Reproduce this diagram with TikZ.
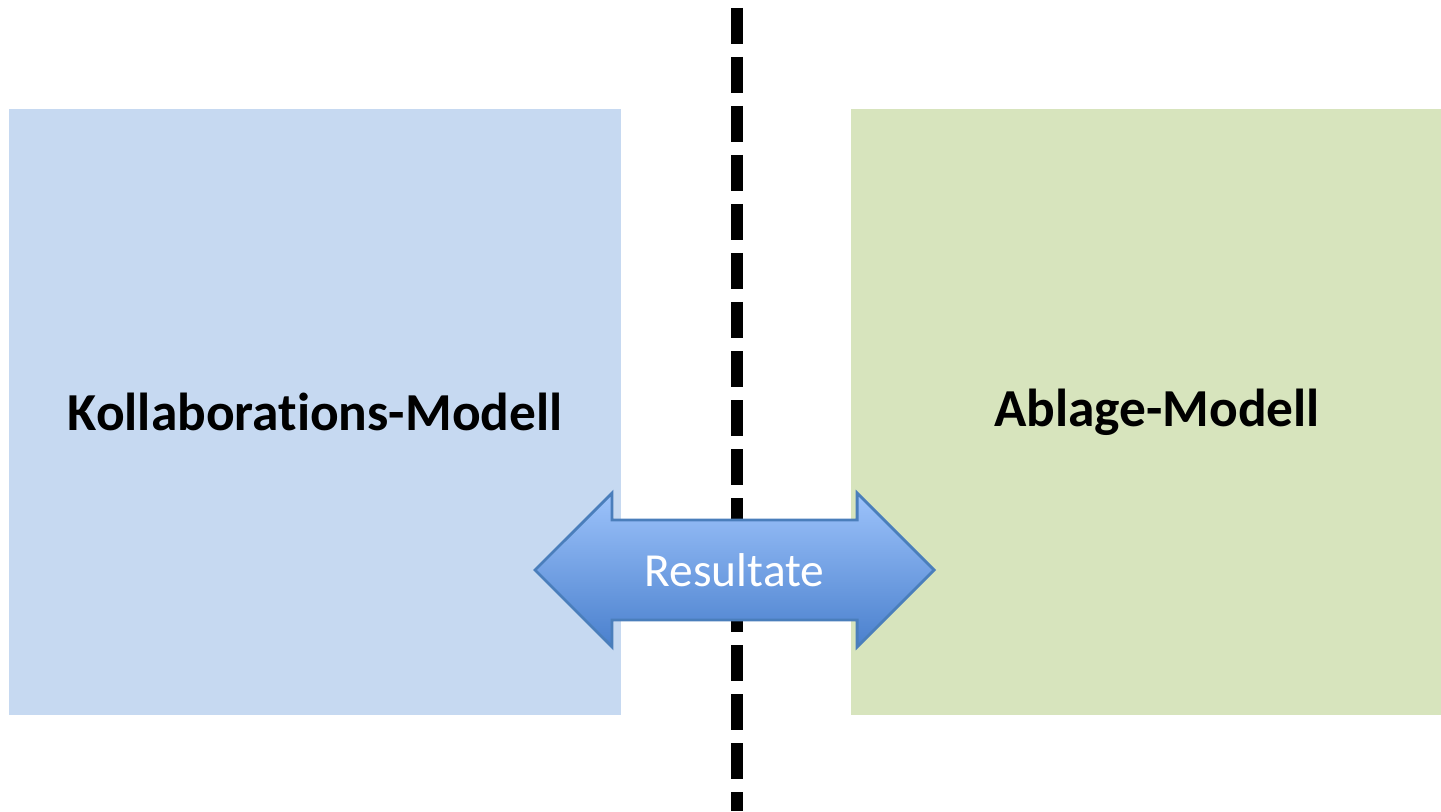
\documentclass[tikz,border=0pt]{standalone}
\usepackage{fontspec}
\setmainfont{Carlito}[Ligatures={NoCommon}]
\usetikzlibrary{shapes.arrows}

\definecolor{kollabblue}{HTML}{C6D9F1}
\definecolor{ablagegreen}{HTML}{D7E4BD}
\definecolor{arrowtop}{HTML}{9DC3FB}
\definecolor{arrowbottom}{HTML}{4A80CD}
\definecolor{arrowline}{HTML}{4A7EBB}

\begin{document}
\begin{tikzpicture}[model/.style={rectangle,minimum width=6.12cm,minimum height=6.06cm,inner sep=0pt,font=\fontsize{15.2pt}{18pt}\selectfont\bfseries}]
\useasboundingbox (0,0) rectangle (14.41,8.11);
\begin{scope}
\clip (0,0) rectangle (14.41,8.11);
\node [model,fill=kollabblue] (kollab) at (3.15,3.99) {Kollaborations-Modell};
\node [model,fill=ablagegreen] (ablage) at (11.57,3.99) {Ablage-Modell};
\end{scope}
\coordinate (top) at (7.37,8.03);
\coordinate (bottom) at (7.37,0);
\draw [line width=0.12cm,dash pattern=on 0.36cm off 0.13cm] (top) -- (bottom);
\node [double arrow,double arrow head extend=0.27cm,minimum height=3.99cm,
  text height=0.65cm,text depth=0.32cm,inner ysep=0pt,
  top color=arrowtop,bottom color=arrowbottom,draw=arrowline,line width=0.8pt,
  text=white,font=\fontsize{13.5pt}{16pt}\selectfont] (result) at (7.345,2.41) {Resultate};
\end{tikzpicture}
\end{document}
